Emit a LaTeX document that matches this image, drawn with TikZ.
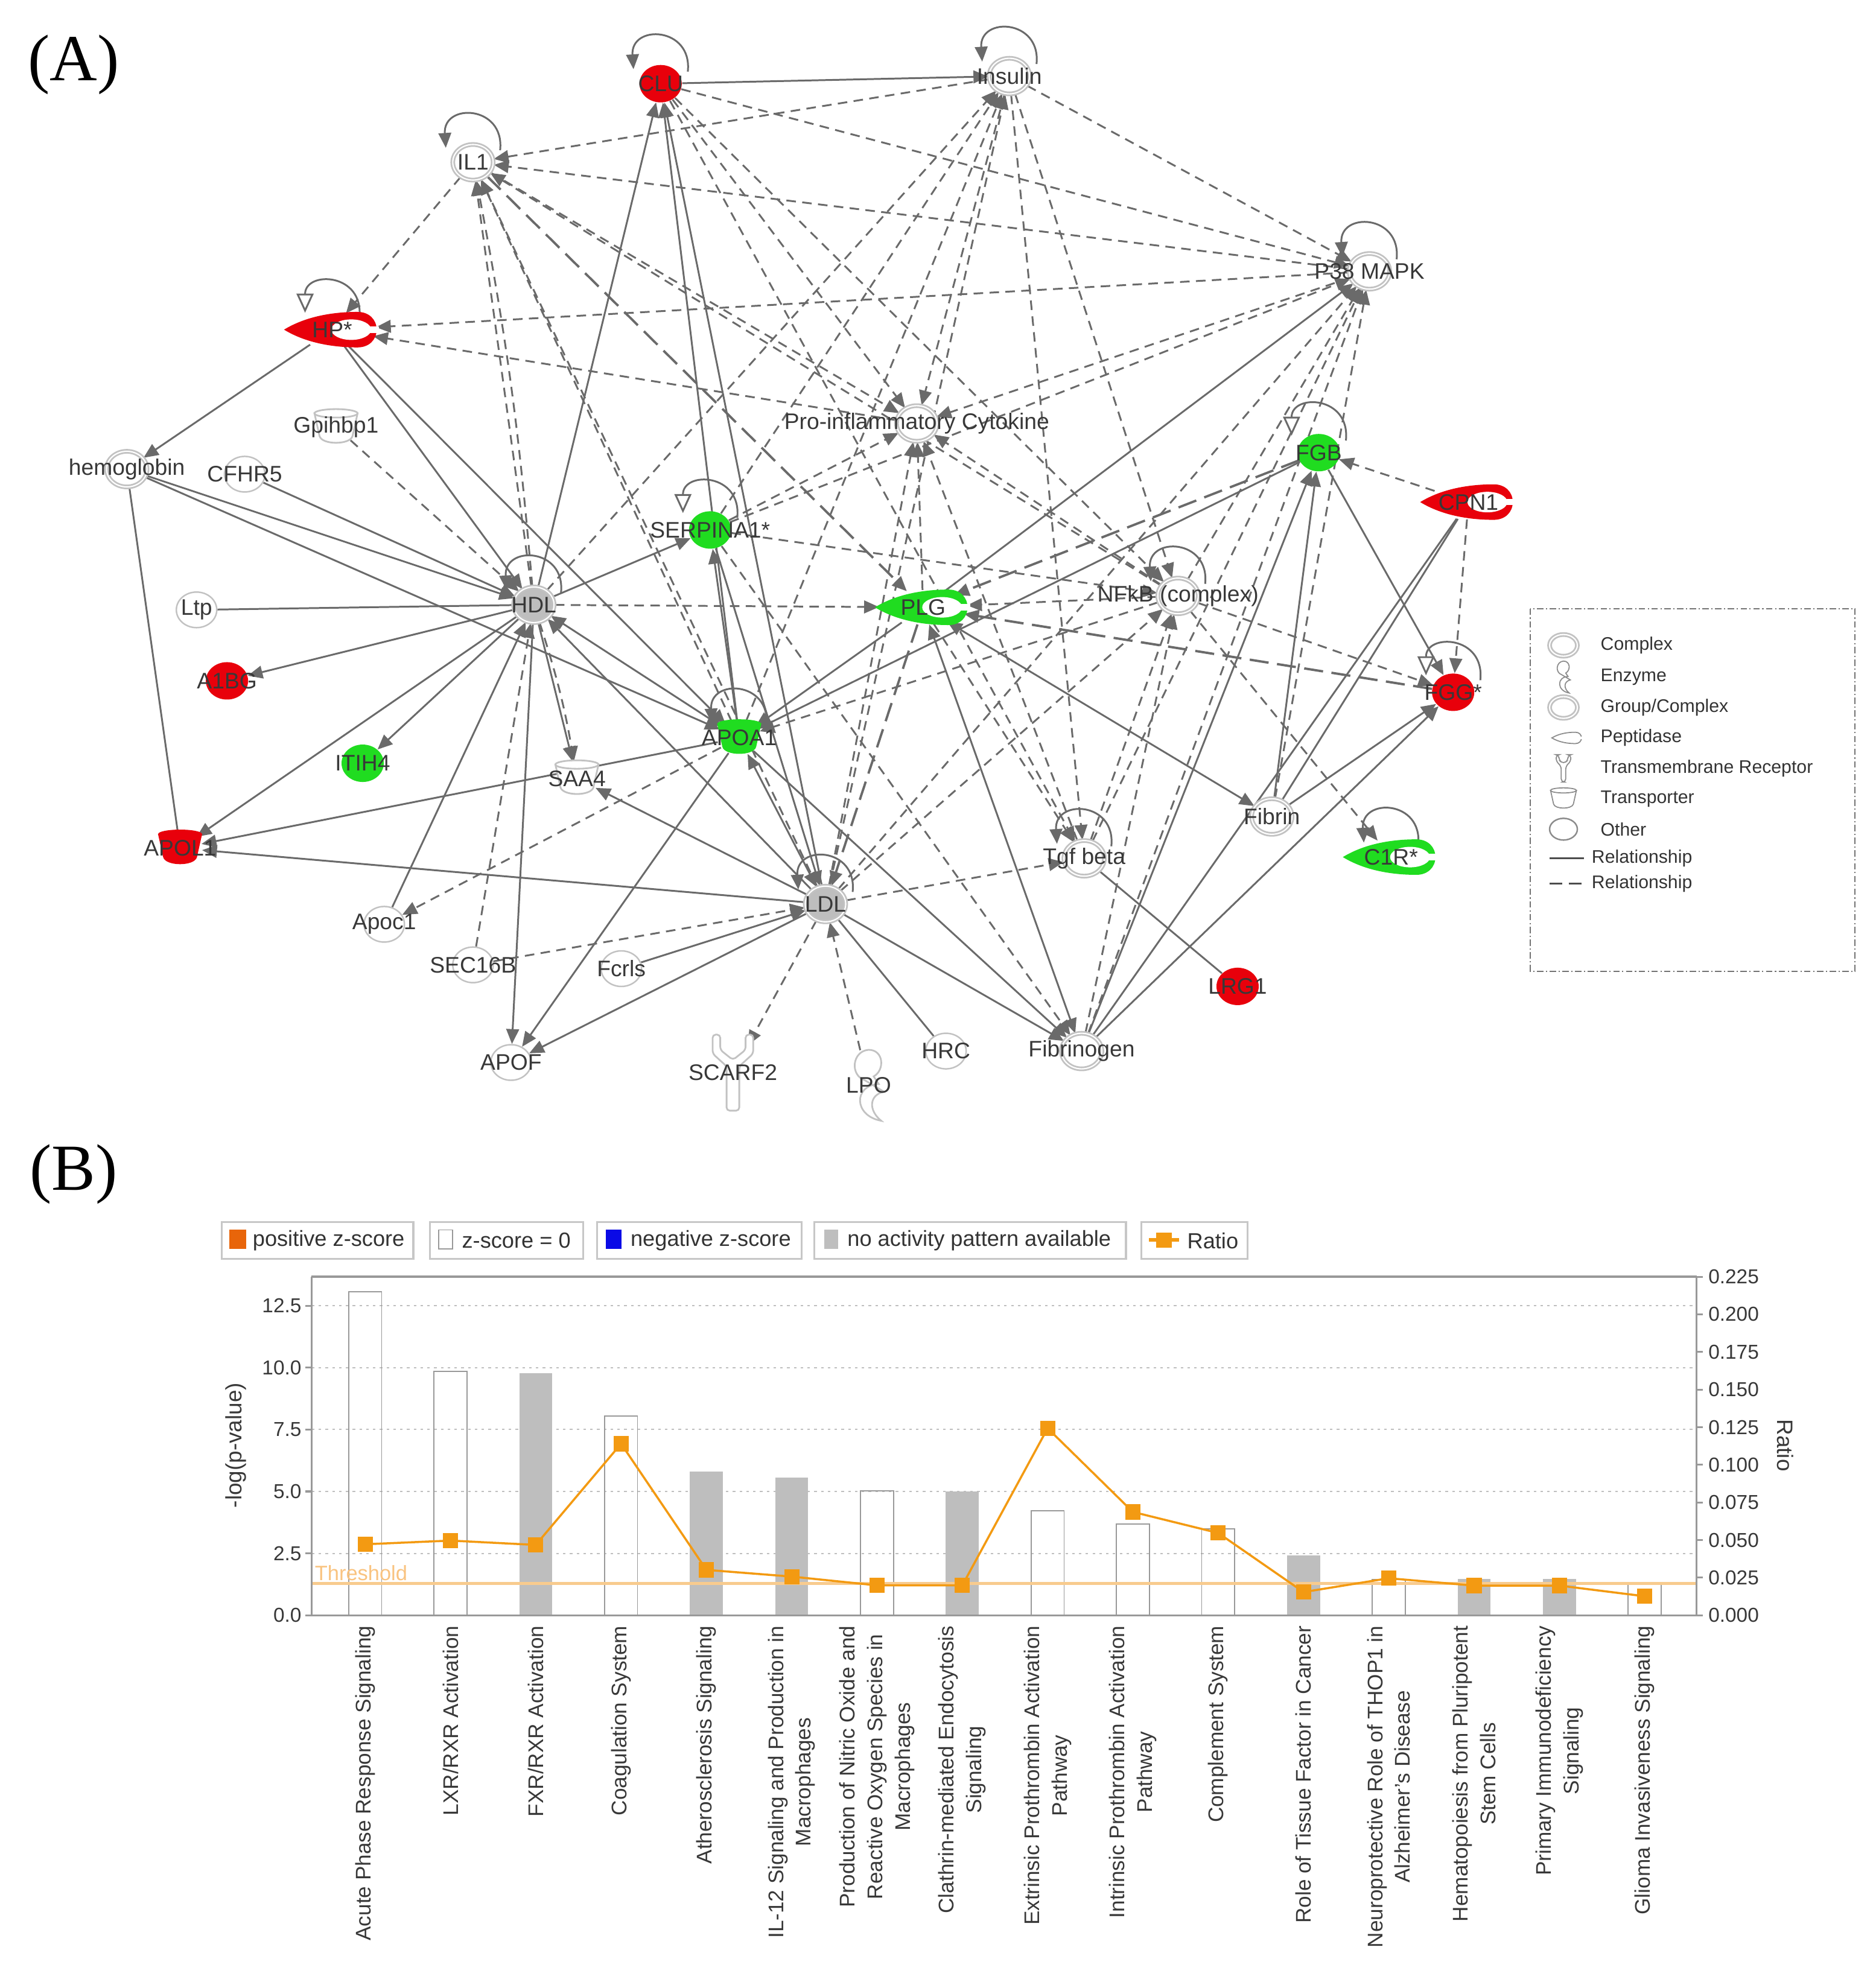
\documentclass[tikz,border=0pt]{standalone}
\usepackage{fontspec}
\setmainfont{Liberation Sans}
\newfontfamily\panelfont{Liberation Serif}
\usetikzlibrary{arrows.meta, shapes.geometric, backgrounds}

\definecolor{upred}{HTML}{E8000B}
\definecolor{downgreen}{HTML}{20DC20}
\definecolor{ringgray}{HTML}{C2C2C2}
\definecolor{edgegray}{HTML}{6A6A6A}
\definecolor{hubgray}{HTML}{BEBEBE}
\definecolor{posorange}{HTML}{E8650A}
\definecolor{ratioorange}{HTML}{F39A12}
\definecolor{throrange}{HTML}{F8CB8E}
\definecolor{negblue}{HTML}{0A0AE6}

\tikzset{
  panel/.style={font=\panelfont\fontsize{31}{31}\selectfont, inner sep=0pt},
  gene/.style={ellipse, minimum width=0.67cm, minimum height=0.59cm, inner sep=0pt},
  other/.style={gene, draw=ringgray, fill=white, line width=0.7pt},
  grp/.style={gene, draw=ringgray, double=white, double distance=0.6pt, line width=0.8pt, fill=white},
  hub/.style={grp, fill=hubgray},
  up/.style={gene, fill=upred, minimum width=0.7cm, minimum height=0.62cm},
  down/.style={up, fill=downgreen},
  slot/.style={gene, minimum width=1.45cm, minimum height=0.56cm},
  cupslot/.style={gene, minimum width=0.72cm, minimum height=0.56cm},
  tallslot/.style={gene, minimum width=0.7cm, minimum height=1.25cm},
  lbl/.style={font=\fontsize{10.6}{12}\selectfont, text=black!78, inner sep=0pt},
  sol/.style={draw=edgegray, line width=0.85pt, -{Triangle[length=7pt,width=6pt]}},
  dsh/.style={sol, dash pattern=on 4.5pt off 3pt},
  ldsh/.style={sol, line width=1.1pt, dash pattern=on 9pt off 4pt},
  lin/.style={draw=edgegray, line width=0.85pt},
  bi/.style={sol, {Triangle[length=7pt,width=6pt]}-{Triangle[length=7pt,width=6pt]}},
  openloop/.style={draw=edgegray, line width=0.85pt, -{Triangle[length=9pt,width=8pt,fill=white]}},
  legframe/.style={draw=black!55, line width=0.6pt, dash pattern=on 3pt off 1.2pt on 0.6pt off 1.2pt},
  legtxt/.style={font=\fontsize{8.6}{10}\selectfont, text=black!80, anchor=west, inner sep=0pt},
  % chart
  axisl/.style={draw=black!40, line width=0.9pt},
  gridl/.style={draw=black!25, line width=0.6pt, dash pattern=on 1.2pt off 2pt},
  zbar/.style={draw=black!40, line width=0.5pt},
  nbar/.style={fill=hubgray},
  tick/.style={font=\fontsize{9.5}{11}\selectfont, text=black!78, inner sep=0pt},
  ytitle/.style={font=\fontsize{10.5}{12}\selectfont, text=black!78, inner sep=0pt},
  xlab/.style={font=\fontsize{10}{13}\selectfont, text=black!78, rotate=90, anchor=east, align=center, inner sep=0pt},
  chartleg/.style={draw=black!22, line width=0.9pt, fill=white},
  cltxt/.style={font=\fontsize{10.3}{12}\selectfont, text=black!80, anchor=west, inner sep=0pt},
  ratioline/.style={draw=ratioorange, line width=1pt},
  % icon shapes
  pept/.pic={
    \path[pic actions] (-38,0) .. controls (-20,-11) and (2,-14) .. (20,-14)
      .. controls (29,-14) and (35,-8) .. (35,0)
      .. controls (35,8) and (29,14) .. (20,14)
      .. controls (2,14) and (-20,11) .. (-38,0) -- cycle;
    \fill[white] (15,0) ellipse [x radius=0.33cm, y radius=0.17cm];
    \fill[white] (15,-2.5) rectangle (37,2.5);
  },
  tport/.pic={
    \path[pic actions] (-17,-11) -- (17,-11) -- (13,7) .. controls (11,14) and (-11,14) .. (-13,7) -- cycle;
    \path[pic actions] (0,-11) ellipse [x radius=0.357cm, y radius=0.07cm];
  },
  rcpt/.pic={
    \path[pic actions, rounded corners=1.5pt] (-16,-30) -- (-16,-15) -- (-5,-5) -- (-5,30) -- (5,30) -- (5,-5)
      -- (16,-15) -- (16,-30) -- (10,-30) -- (10,-18) -- (0,-10) -- (-10,-18) -- (-10,-30) -- cycle;
  },
  enz/.pic={
    \path[pic actions] (-3,-4) .. controls (-15,-8) and (-13,-27) .. (0,-28) .. controls (12,-28) and (13,-12) .. (4,-7)
      -- (8,-1) .. controls (-12,0) and (-12,24) .. (10,28) .. controls (0,20) and (0,8) .. (12,5) -- cycle;
  },
}

\begin{document}
\begin{tikzpicture}[x=0.021016cm, y=-0.021016cm]
\useasboundingbox (0,0) rectangle (1477,1568);

\node[panel] (pA) at (58,51) {(A)};
\node[panel] (pB) at (58,926) {(B)};

%%% (A) network
% drawn shapes
\pic[fill=upred] at (262,260) {pept};
\pic[fill=upred] at (1158,396) {pept};
\pic[fill=downgreen] at (728,479) {pept};
\pic[fill=downgreen] at (1097,676) {pept};
\pic[fill=upred, draw=upred] at (142,669) {tport};
\pic[fill=downgreen, draw=downgreen] at (583,582) {tport};
\pic[fill=white, draw=ringgray, line width=0.8pt] at (455,614) {tport};
\pic[fill=white, draw=ringgray, line width=0.8pt] at (265,337) {tport};
\pic[fill=white, draw=ringgray, line width=0.8pt] at (578,846) {rcpt};
\pic[fill=white, draw=ringgray, line width=0.8pt] at (685,856) {enz};

% groups and complexes
\node[grp, label={[lbl]center:Insulin}] (Insulin) at (796,60) {};
\node[grp, label={[lbl]center:IL1}] (IL1) at (373,128) {};
\node[grp, label={[lbl]center:P38 MAPK}] (P38) at (1080,214) {};
\node[grp, label={[lbl]center:hemoglobin}] (hemoglobin) at (100,370) {};
\node[grp, label={[lbl]center:Pro-inflammatory Cytokine}] (ProInf) at (723,334) {};
\node[grp, label={[lbl]center:NFkB (complex)}] (NFkB) at (929,470) {};
\node[grp, label={[lbl]center:Tgf beta}] (Tgf) at (855,677) {};
\node[grp, label={[lbl]center:Fibrin}] (Fibrin) at (1003,644) {};
\node[grp, label={[lbl]center:Fibrinogen}] (Fibrinogen) at (853,829) {};
\node[hub, label={[lbl]center:HDL}] (HDL) at (421,477) {};
\node[hub, label={[lbl]center:LDL}] (LDL) at (651,713) {};
% others
\node[other, label={[lbl]center:CFHR5}] (CFHR5) at (193,374) {};
\node[other, label={[lbl]center:Ltp}] (Ltp) at (155,481) {};
\node[other, label={[lbl]center:Apoc1}] (Apoc1) at (303,729) {};
\node[other, label={[lbl]center:SEC16B}] (SEC16B) at (373,761) {};
\node[other, label={[lbl]center:Fcrls}] (Fcrls) at (490,764) {};
\node[other, label={[lbl]center:APOF}] (APOF) at (403,838) {};
\node[other, label={[lbl]center:HRC}] (HRC) at (746,829) {};
% measured
\node[up, label={[lbl]center:CLU}] (CLU) at (521,66) {};
\node[up, label={[lbl]center:A1BG}] (A1BG) at (179,537) {};
\node[up, label={[lbl]center:FGG*}] (FGG) at (1146,546) {};
\node[up, label={[lbl]center:LRG1}] (LRG1) at (976,778) {};
\node[down, label={[lbl]center:FGB}] (FGB) at (1040,357) {};
\node[down, label={[lbl]center:SERPINA1*}] (SERPINA1) at (560,418) {};
\node[down, label={[lbl]center:ITIH4}] (ITIH4) at (286,602) {};
% nodes over the drawn shapes
\node[slot, label={[lbl]center:HP*}] (HP) at (262,260) {};
\node[slot, label={[lbl]center:CPN1}] (CPN1) at (1158,396) {};
\node[slot, label={[lbl]center:PLG}] (PLG) at (728,479) {};
\node[slot, label={[lbl]center:C1R*}] (C1R) at (1097,676) {};
\node[cupslot, label={[lbl]center:APOL1}] (APOL1) at (142,669) {};
\node[cupslot, label={[lbl]center:APOA1}] (APOA1) at (583,582) {};
\node[cupslot, label={[lbl]center:SAA4}] (SAA4) at (455,614) {};
\node[cupslot, label={[lbl]center:Gpihbp1}] (Gpihbp1) at (265,337) {};
\node[tallslot, label={[lbl]center:SCARF2}] (SCARF2) at (578,846) {};
\node[tallslot, label={[lbl]center:LPO}] (LPO) at (685,856) {};

\begin{scope}[on background layer]
  \foreach \a/\b in {CLU/Insulin, HDL/CLU, APOA1/CLU, LDL/CLU, HP/hemoglobin, HP/HDL, HP/APOA1,
      hemoglobin/HDL, hemoglobin/APOA1, CFHR5/HDL, HDL/A1BG, HDL/ITIH4, HDL/APOL1, HDL/SAA4,
      Apoc1/HDL, HDL/APOF, HDL/SERPINA1, LDL/HDL, APOA1/SERPINA1, SERPINA1/LDL, APOA1/APOL1,
      LDL/APOL1, LDL/SAA4, LDL/APOF, APOA1/APOF, Fcrls/LDL, LDL/Fibrinogen, PLG/P38, PLG/APOA1,
      Fibrin/FGB, Fibrin/FGG, Fibrinogen/FGB, Fibrinogen/FGG, FGB/FGG, FGB/APOA1, APOA1/Fibrinogen}
    \draw[sol] (\a) -- (\b);
  \foreach \a/\b in {hemoglobin/APOL1, Ltp/HDL, HRC/LDL, Tgf/LRG1, CPN1/Fibrin, CPN1/Fibrinogen}
    \draw[lin] (\a) -- (\b);
  \foreach \a/\b in {PLG/Fibrinogen, PLG/Fibrin, APOA1/LDL, HDL/APOA1}
    \draw[bi] (\a) -- (\b);
  \foreach \a/\b in {CLU/P38, Insulin/IL1, P38/IL1, IL1/HP, P38/HP, ProInf/HP, Insulin/P38,
      CLU/ProInf, CLU/NFkB, Insulin/ProInf, SERPINA1/Insulin, HDL/Insulin, APOA1/Insulin,
      LDL/Insulin, Insulin/NFkB, Insulin/Tgf, P38/ProInf, SERPINA1/P38, NFkB/P38, Tgf/P38,
      Fibrinogen/P38, Fibrin/P38, LDL/P38, Gpihbp1/HDL, SEC16B/HDL, HDL/PLG, HDL/IL1, LDL/IL1,
      APOA1/IL1, APOA1/Apoc1, NFkB/APOA1, SEC16B/LDL, LDL/SCARF2, LPO/LDL, LDL/Tgf, LDL/NFkB,
      LDL/ProInf, NFkB/PLG, PLG/ProInf, PLG/Tgf, SERPINA1/ProInf, SERPINA1/NFkB, IL1/ProInf,
      Tgf/ProInf, NFkB/ProInf, Tgf/NFkB, Fibrinogen/NFkB, NFkB/FGG, NFkB/C1R, CPN1/FGB, CPN1/FGG,
      SERPINA1/Fibrinogen, CLU/Tgf, NFkB/IL1}
    \draw[dsh] (\a) -- (\b);
  \foreach \a/\b in {IL1/PLG, PLG/LDL, FGG/PLG, FGB/PLG}
    \draw[ldsh] (\a) -- (\b);
  \draw[dsh] (HDL) to[bend left=4] (SAA4);
  \draw[dsh] (HDL) to[bend right=3] (IL1);
  % self loops
  \foreach \nd in {CLU, Insulin, IL1, P38, NFkB, Tgf, LDL, HDL, APOA1, C1R}
    \draw[sol] ([shift={(0.45cm,0.2cm)}]\nd.center) .. controls +(0.08cm,0.75cm) and +(-0.05cm,0.75cm) .. ([shift={(-0.45cm,0.24cm)}]\nd.center);
  \foreach \nd in {HP, FGB, SERPINA1, FGG}
    \draw[openloop] ([shift={(0.45cm,0.2cm)}]\nd.center) .. controls +(0.08cm,0.75cm) and +(0cm,0.7cm) .. ([shift={(-0.45cm,0.28cm)}]\nd.center);
\end{scope}

% legend of the network
\draw[legframe] (1207,480) rectangle (1463,766);
\node[grp, minimum width=0.46cm, minimum height=0.36cm] (icComplex) at (1233,509) {};
\pic[scale=0.45, fill=white, draw=black!45, line width=0.5pt] at (1233,534) {enz};
\node[grp, minimum width=0.46cm, minimum height=0.36cm] (icGroup) at (1233,558) {};
\pic[scale=0.32, fill=white, draw=black!45, line width=0.5pt] at (1236,582) {pept};
\pic[scale=0.36, fill=white, draw=black!45, line width=0.5pt] at (1233,606) {rcpt};
\pic[scale=0.6, fill=white, draw=black!45, line width=0.5pt] at (1233,630) {tport};
\node[other, minimum width=0.46cm, minimum height=0.36cm, draw=black!45] (icOther) at (1233,654) {};
\draw[lin, draw=black!70] (1222,677) -- (1249,677);
\draw[lin, draw=black!70, dash pattern=on 6pt off 3pt] (1222,697) -- (1249,697);
\node[legtxt] (lgComplex) at (1262,509) {Complex};
\node[legtxt] (lgEnzyme) at (1262,534) {Enzyme};
\node[legtxt] (lgGroup) at (1262,558) {Group/Complex};
\node[legtxt] (lgPept) at (1262,582) {Peptidase};
\node[legtxt] (lgRcpt) at (1262,606) {Transmembrane Receptor};
\node[legtxt] (lgTport) at (1262,630) {Transporter};
\node[legtxt] (lgOther) at (1262,654) {Other};
\node[legtxt] (lgSol) at (1255,677) {Relationship};
\node[legtxt] (lgDsh) at (1255,697) {Relationship};

%%% (B) chart
% legend row
\draw[chartleg] (175,964) rectangle (326,993);
\fill[posorange] (181,970) rectangle (194,985);
\node[cltxt] (clPos) at (199,978.5) {positive z-score};
\draw[chartleg] (339,964) rectangle (460,993);
\draw[draw=black!40, line width=0.5pt] (346,970) rectangle (357,985);
\node[cltxt] (clZero) at (364,978.5) {z-score = 0};
\draw[chartleg] (471,964) rectangle (632,993);
\fill[negblue] (478,970) rectangle (490,985);
\node[cltxt] (clNeg) at (497,978.5) {negative z-score};
\draw[chartleg] (642,964) rectangle (888,993);
\fill[hubgray] (650,970) rectangle (661,985);
\node[cltxt] (clNone) at (668,978.5) {no activity pattern available};
\draw[chartleg] (900,964) rectangle (984,993);
\draw[ratioline, line width=1.6pt] (906,978) -- (930,978);
\fill[ratioorange] (912,972) rectangle (924,984);
\node[cltxt] (clRatio) at (936,978.5) {Ratio};

% grid and bars
\foreach \v in {2.5,5,7.5,10,12.5} {
  \pgfmathsetmacro\yy{1274-19.53*\v}
  \draw[gridl] (246,\yy) -- (1338,\yy);
}
\foreach \k/\v/\kind in {1/13.07/zbar, 2/9.85/zbar, 3/9.77/nbar, 4/8.05/zbar, 5/5.81/nbar,
    6/5.57/nbar, 7/5.02/zbar, 8/5.0/nbar, 9/4.23/zbar, 10/3.68/zbar, 11/3.49/zbar,
    12/2.42/nbar, 13/1.45/zbar, 14/1.47/nbar, 15/1.47/nbar, 16/1.25/zbar} {
  \pgfmathsetmacro\cx{288+67.27*(\k-1)}
  \pgfmathsetmacro\yy{1274-19.53*\v}
  \path[\kind] ({\cx-13},1274) rectangle ({\cx+13},\yy);
}

% threshold
\draw[draw=throrange, line width=1.3pt] (246,1249) -- (1338,1249);
\node[font=\fontsize{9.8}{11}\selectfont, text=throrange!90!orange, anchor=south west, inner sep=0pt] (thr) at (248,1247) {Threshold};

% axes
\draw[axisl, line width=1.3pt] (245.6,1007) -- (1338,1007);
\draw[axisl] (245.6,1007) -- (245.6,1274) -- (1338,1274) -- (1338,1007);
\foreach \v/\t [count=\k] in {0/0.0, 2.5/2.5, 5/5.0, 7.5/7.5, 10/10.0, 12.5/12.5} {
  \pgfmathsetmacro\yy{1274-19.53*\v}
  \draw[axisl] (241,\yy) -- (245.6,\yy);
  \node[tick, anchor=east] (yl\k) at (238,\yy) {\t};
}
\foreach \r/\t [count=\k] in {0/0.000, 0.025/0.025, 0.05/0.050, 0.075/0.075, 0.1/0.100,
    0.125/0.125, 0.15/0.150, 0.175/0.175, 0.2/0.200, 0.225/0.225} {
  \pgfmathsetmacro\yy{1274-1186.7*\r}
  \draw[axisl] (1338,\yy) -- (1343,\yy);
  \node[tick, anchor=west] (yr\k) at (1347,\yy) {\t};
}
\node[ytitle, rotate=90] (ylab) at (186,1140) {-log(p-value)};
\node[ytitle, rotate=-90] (rlab) at (1408,1140) {Ratio};

% ratio
\draw[ratioline] (288,1218.0) -- (355.3,1215.1) -- (422.5,1218.5) -- (489.8,1138.7) -- (557.1,1238.2)
  -- (624.4,1243.5) -- (691.6,1250.4) -- (758.9,1250.4) -- (826.2,1126.5) -- (893.4,1192.5)
  -- (960.7,1209.1) -- (1028.0,1255.7) -- (1095.2,1244.8) -- (1162.5,1250.6) -- (1229.8,1250.6)
  -- (1297.1,1259.0);
\foreach \x/\y in {288/1218.0, 355.3/1215.1, 422.5/1218.5, 489.8/1138.7, 557.1/1238.2,
    624.4/1243.5, 691.6/1250.4, 758.9/1250.4, 826.2/1126.5, 893.4/1192.5, 960.7/1209.1,
    1028.0/1255.7, 1095.2/1244.8, 1162.5/1250.6, 1229.8/1250.6, 1297.1/1259.0}
  \fill[ratioorange] ({\x-6},{\y-6}) rectangle ({\x+6},{\y+6});

% category labels
\foreach \k/\t in {1/{Acute Phase Response Signaling}, 2/{LXR/RXR Activation},
    3/{FXR/RXR Activation}, 4/{Coagulation System}, 5/{Atherosclerosis Signaling},
    6/{IL-12 Signaling and Production in\\Macrophages},
    7/{Production of Nitric Oxide and\\Reactive Oxygen Species in\\Macrophages},
    8/{Clathrin-mediated Endocytosis\\Signaling}, 9/{Extrinsic Prothrombin Activation\\Pathway},
    10/{Intrinsic Prothrombin Activation\\Pathway}, 11/{Complement System},
    12/{Role of Tissue Factor in Cancer}, 13/{Neuroprotective Role of THOP1 in\\Alzheimer's Disease},
    14/{Hematopoiesis from Pluripotent\\Stem Cells}, 15/{Primary Immunodeficiency\\Signaling},
    16/{Glioma Invasiveness Signaling}}
  \node[xlab] (xl\k) at ({288+67.27*(\k-1)},1282) {\t};
\end{tikzpicture}
\end{document}
